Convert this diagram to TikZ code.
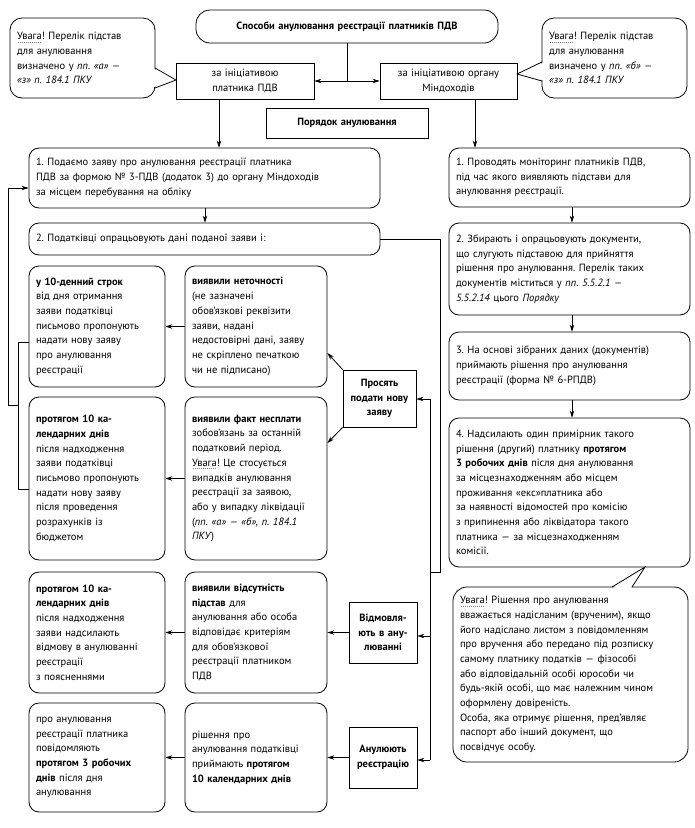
\documentclass[tikz,border=0pt]{standalone}
\usepackage{fontspec}
\setmainfont{PT Sans}
\usetikzlibrary{arrows.meta,calc}
\frenchspacing
\newcommand\uv{\leavevmode\setbox0=\hbox{Увага}\rlap{\raisebox{-2.6pt}{\color{gray}\hbox to \wd0{\leaders\hbox to 2pt{\hss\rule{0.8pt}{0.6pt}\hss}\hfill}}}\box0}
\newcommand\bx[7][]{%
 \pgfmathsetmacro\bw{#5-#3}%
 \pgfmathsetmacro\bh{#6-#4}%
 \pgfmathsetmacro\tw{#5-#3-14}%
 \pgfmathsetmacro\cx{(#3+#5)/2}%
 \pgfmathsetmacro\cy{(#4+#6)/2}%
 \node[#1, minimum width=\bw pt, minimum height=\bh pt, text width=\tw pt] (#2) at (\cx,\cy) {#7};}
\tikzset{
 base/.style={draw=black, line width=0.8pt, font=\fontsize{10.5}{14.7}\selectfont\frenchspacing, align=left, inner xsep=7pt, inner ysep=2pt},
 rbox/.style={base, rounded corners=10pt},
 sbox/.style={base, align=center},
 arr/.style={-{Stealth[length=7pt,width=4.5pt]}, line width=0.8pt},
 ln/.style={line width=0.8pt},
}
\begin{document}
\begin{tikzpicture}[x=1pt,y=-1pt]
\useasboundingbox (0,0) rectangle (695,828);
% top
\bx[rbox, rounded corners=14pt, align=center]{title}{196}{10}{498}{43}{\textbf{Способи анулювання реєстрації платників ПДВ}}
\bx[sbox]{li}{176}{63}{314}{99}{за ініціативою\\платника ПДВ}
\bx[sbox]{ri}{380}{63}{517}{99}{за ініціативою органу\\Міндоходів}
\bx[sbox]{por}{266}{108}{428}{138}{\textbf{Порядок анулювання}}
\bx[rbox, rounded corners=12pt]{cl}{10}{18}{155}{98}{\uv! Перелік підстав\\для анулювання\\визначено у \textit{пп. «а» —}\\\textit{«з» п. 184.1 ПКУ}}
\bx[rbox, rounded corners=12pt]{cr}{542}{18}{687}{98}{\uv! Перелік підстав\\для анулювання\\визначено у \textit{пп. «б» —}\\\textit{«з» п. 184.1 ПКУ}}
% left column
\bx[rbox]{l1}{29}{148}{380}{208}{1. Подаємо заяву про анулювання реєстрації платника\\ПДВ за формою № 3-ПДВ (додаток 3) до органу Міндоходів\\за місцем перебування на обліку}
\bx[rbox]{l2}{29}{223}{380}{255}{2. Податківці опрацьовують дані поданої заяви і:}
\bx[rbox]{a}{29}{266}{165}{387}{\textbf{у 10-денний строк}\\від дня отримання\\заяви податківці\\письмово пропонують\\надати нову заяву\\про анулювання\\реєстрації}
\bx[rbox]{b}{185}{266}{327}{387}{\textbf{виявили неточності}\\(не зазначені\\обов’язкові реквізити\\заяви, надані\\недостовірні дані, заяву\\не скріплено печаткою\\чи не підписано)}
\bx[rbox]{c}{29}{397}{165}{560}{\textbf{протягом 10 ка-}\\\textbf{лендарних днів}\\після надходження\\заяви податківці\\письмово пропонують\\надати нову заяву\\після проведення\\розрахунків із\\бюджетом}
\bx[rbox]{d}{185}{397}{327}{560}{\textbf{виявили факт несплати}\\зобов’язань за останній\\податковий період.\\\uv! Це стосується\\випадків анулювання\\реєстрації за заявою,\\або у випадку ліквідації\\(\textit{пп. «а» — «б», п. 184.1}\\\textit{ПКУ})}
\bx[sbox]{p}{343}{370}{416}{427}{\textbf{Просять}\\\textbf{подати нову}\\\textbf{заяву}}
\bx[rbox]{e}{29}{572}{165}{693}{\textbf{протягом 10 ка-}\\\textbf{лендарних днів}\\після надходження\\заяви надсилають\\відмову в анулюванні\\реєстрації\\з поясненнями}
\bx[rbox]{f}{185}{572}{327}{693}{\textbf{виявили відсутність}\\\textbf{підстав} для\\анулювання або особа\\відповідає критеріям\\для обов’язкової\\реєстрації платником\\ПДВ}
\bx[sbox]{v}{349}{602}{417}{663}{\textbf{Відмовля-}\\\textbf{ють в ану-}\\\textbf{люванні}}
\bx[rbox]{g}{29}{703}{165}{812}{про анулювання\\реєстрації платника\\повідомляють\\\textbf{протягом 3 робочих}\\\textbf{днів} після дня\\анулювання}
\bx[rbox]{h}{185}{703}{327}{812}{рішення про\\анулювання податківці\\приймають \textbf{протягом}\\\textbf{10 календарних днів}}
\bx[sbox]{n}{349}{727}{417}{788}{\textbf{Анулюють}\\\textbf{реєстрацію}}
% right column
\bx[rbox]{r1}{449}{148}{690}{207}{1. Проводять моніторинг платників ПДВ,\\під час якого виявляють підстави для\\анулювання реєстрації.}
\bx[rbox]{r2}{449}{223}{690}{315}{2. Збирають і опрацьовують документи,\\що слугують підставою для прийняття\\рішення про анулювання. Перелік таких\\документів міститься у \textit{пп. 5.5.2.1 —}\\\textit{5.5.2.14} цього \textit{Порядку}}
\bx[rbox]{r3}{449}{332}{690}{400}{3. На основі зібраних даних (документів)\\приймають рішення про анулювання\\реєстрації (форма № 6-РПДВ)}
\bx[rbox]{r4}{449}{418}{690}{567}{4. Надсилають один примірник такого\\рішення (другий) платнику \textbf{протягом}\\\textbf{3 робочих днів} після дня анулювання\\за місцезнаходженням або місцем\\проживання «екс»платника або\\за наявності відомостей про комісію\\з припинення або ліквідатора такого\\платника — за місцезнаходженням\\комісії.}
\bx[rbox, rounded corners=14pt]{r5}{453}{587}{688}{762}{\uv! Рішення про анулювання\\вважається надісланим (врученим), якщо\\його надіслано листом з повідомленням\\про вручення або передано під розписку\\самому платнику податків — фізособі\\або відповідальній особі юрособи чи\\будь-якій особі, що має належним чином\\оформлену довіреність.\\Особа, яка отримує рішення, пред’являє\\паспорт або інший документ, що\\посвідчує особу.}
% callout wedges
\coordinate (clt) at (176,80); \coordinate (cla) at (155,68); \coordinate (clb) at (155,88);
\fill[white] (154,69) -- (clt) -- (154,87) -- cycle;
\draw[ln] (cla) -- (clt) -- (clb);
\coordinate (crt) at (517,74); \coordinate (cra) at (542,62); \coordinate (crb) at (542,81);
\fill[white] (543,63) -- (crt) -- (543,80) -- cycle;
\draw[ln] (cra) -- (crt) -- (crb);
\coordinate (r5t) at (645,567); \coordinate (r5a) at (612,587); \coordinate (r5b) at (632,587);
\fill[white] (613,588) -- (r5t) -- (631,588) -- cycle;
\draw[ln] (r5a) -- (r5t) -- (r5b);
% top connectors
\coordinate (t0) at (347,81);
\draw[ln] (title.south) -- (t0);
\draw[arr] (t0) -- (li.east |- t0);
\draw[arr] (t0) -- (ri.west |- t0);
\coordinate (xl) at (219,0); \coordinate (xr) at (475,0);
\coordinate (xm) at (205,0); \coordinate (xq) at (572,0);
\draw[arr] (li.south -| xl) -- (l1.north -| xl);
\draw[arr] (ri.south -| xr) -- (r1.north -| xr);
\draw[arr] (l1.south -| xm) -- (l2.north -| xm);
\draw[arr] (r1.south -| xq) -- (r2.north -| xq);
\draw[arr] (r2.south -| xq) -- (r3.north -| xq);
\draw[arr] (r3.south -| xq) -- (r4.north -| xq);
% horizontal arrows
\draw[arr] (b.west) -- (a.east);
\draw[arr] (d.west) -- (c.east);
\draw[arr] (f.west) -- (e.east);
\draw[arr] (h.west) -- (g.east);
\draw[arr] (v.west) -- (f.east);
\draw[arr] (n.west) -- (h.east);
\coordinate (yb) at (0,353); \coordinate (yd) at (0,443);
\draw[arr] (p.north west) -- (b.east |- yb);
\draw[arr] (p.south west) -- (d.east |- yd);
% right feedback
\coordinate (k1) at (440,0); \coordinate (j) at (430,572);
\draw[ln] (l2.east) -- (l2.east -| k1) -- (k1 |- j) -- (j);
\coordinate (vt) at (430,399); \coordinate (vm) at (430,636); \coordinate (vb) at (430,760);
\draw[ln] (vt) -- (vb);
\draw[arr] (vt) -- (p.east |- vt);
\draw[arr] (vm) -- (v.east |- vm);
\draw[arr] (vb) -- (n.east |- vb);
% left feedback
\coordinate (ya) at (0,342); \coordinate (yc) at (0,489); \coordinate (yj) at (0,405); \coordinate (y1) at (0,188);
\coordinate (lx1) at (18,0); \coordinate (lx0) at (8,0);
\draw[ln] (a.west |- ya) -- (lx1 |- ya) -- (lx1 |- yc) -- (c.west |- yc);
\draw[arr] (lx1 |- yj) -- (lx0 |- yj) -- (lx0 |- y1) -- (l1.west |- y1);
\end{tikzpicture}
\end{document}
